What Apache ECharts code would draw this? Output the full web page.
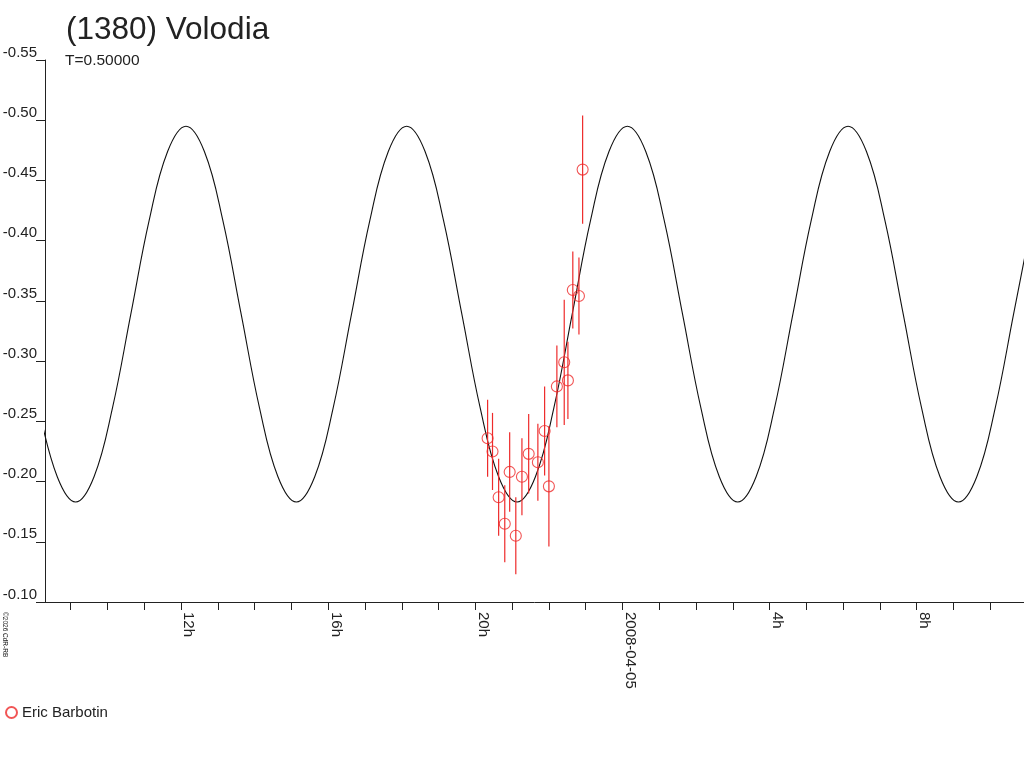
<!DOCTYPE html>
<html>
<head>
<meta charset="utf-8">
<script src="https://cdn.jsdelivr.net/npm/echarts@6/dist/echarts.min.js"></script>
<style>
  html, body { margin: 0; padding: 0; background: #fff; }
  #chart { width: 1024px; height: 768px; }
</style>
</head>
<body>
<div id="chart"></div>
<script>
// lightcurve data
const objectName = '(1380) Volodia'
const periodLabel = 'T=0.50000'
const observer = 'Eric Barbotin'

// observations: time, magnitude, error bar half-length
const obsTimes = [
  '2008-04-04 20:20', '2008-04-04 20:28', '2008-04-04 20:38', '2008-04-04 20:48',
  '2008-04-04 20:56', '2008-04-04 21:06', '2008-04-04 21:16', '2008-04-04 21:27',
  '2008-04-04 21:42', '2008-04-04 21:53', '2008-04-04 22:00', '2008-04-04 22:13',
  '2008-04-04 22:25', '2008-04-04 22:31', '2008-04-04 22:39', '2008-04-04 22:49',
  '2008-04-04 22:55'
]
const obsMags = [
  -0.236, -0.225, -0.187, -0.165, -0.208, -0.155, -0.204, -0.223,
  -0.216, -0.242, -0.196, -0.279, -0.299, -0.284, -0.359, -0.354,
  -0.459
]
const obsErrs = [
  0.032, 0.032, 0.032, 0.032, 0.033, 0.032, 0.032, 0.033,
  0.032, 0.037, 0.050, 0.034, 0.052, 0.032, 0.032, 0.032,
  0.045
]

// fitted curve, one reading every 30 min starting 2008-04-04 08:08
const curveStart = '2008-04-04 08:08'
const curveStepMin = 30
const curveMags = [
  -0.261, -0.204, -0.183, -0.204, -0.261, -0.339, -0.417, -0.474, -0.495, -0.474, -0.417, -0.339,
  -0.261, -0.204, -0.183, -0.204, -0.261, -0.339, -0.417, -0.474, -0.495, -0.474, -0.417, -0.339,
  -0.261, -0.204, -0.183, -0.204, -0.261, -0.339, -0.417, -0.474, -0.495, -0.474, -0.417, -0.339,
  -0.261, -0.204, -0.183, -0.204, -0.261, -0.339, -0.417, -0.474, -0.495, -0.474, -0.417, -0.339,
  -0.261, -0.204, -0.183, -0.204, -0.261, -0.339, -0.417
]

const xMin = '2008-04-04 08:18'
const xMax = '2008-04-05 10:55'
const yMin = -0.55
const yMax = -0.10
const yStep = 0.05

const red = '#ee2b2b'
const ink = '#222'
const font = 'Liberation Sans, Arial, sans-serif'

const t0 = echarts.time.parse(curveStart).getTime()
const curveData = curveMags.map((m, i) => [t0 + i * curveStepMin * 60000, m])
const obsData = obsTimes.map((t, i) => [t, obsMags[i]])
const errData = obsTimes.map((t, i) => [t, obsMags[i], obsErrs[i]])

const myChart = echarts.init(document.getElementById('chart'))
myChart.setOption({
  animation: false,
  backgroundColor: '#fff',
  textStyle: { fontFamily: font },
  title: [
    {
      text: objectName, left: 61, top: 9,
      textStyle: { fontSize: 31.5, fontWeight: 'normal', color: ink, fontFamily: font }
    },
    {
      text: periodLabel, left: 60, top: 48,
      textStyle: { fontSize: 15.5, fontWeight: 'normal', color: ink, fontFamily: font }
    }
  ],
  graphic: [
    {
      type: 'text', left: 1, top: 612,
      rotation: -Math.PI / 2,
      style: { text: '©2026 CdR-RB', fontSize: 6.5, fill: ink, fontFamily: font }
    }
  ],
  legend: {
    data: [observer],
    left: 5, top: 705,
    padding: 0,
    itemWidth: 11, itemHeight: 11,
    textStyle: { fontSize: 15, color: ink, fontFamily: font }
  },
  grid: { left: 45, right: 0, top: 60, bottom: 166, outerBoundsMode: 'none' },
  xAxis: {
    type: 'time',
    min: xMin,
    max: xMax,
    minInterval: 3600000,
    maxInterval: 3600000,
    splitNumber: 27,
    splitLine: { show: false },
    axisLine: { lineStyle: { color: ink, width: 1 } },
    axisTick: { length: 8, lineStyle: { color: ink } },
    axisLabel: {
      rotate: -90,
      margin: 10,
      fontSize: 15,
      color: ink,
      verticalAlign: 'bottom',
      showMinLabel: false,
      showMaxLabel: false,
      hideOverlap: false,
      formatter: function (value) {
        const d = new Date(value)
        if (d.getMinutes() !== 0) return ''
        const h = d.getHours()
        if (h === 0) return echarts.time.format(value, '{yyyy}-{MM}-{dd}', false)
        if (h % 4 === 0) return h + 'h'
        return ''
      }
    }
  },
  yAxis: {
    type: 'value',
    inverse: true,
    min: yMin,
    max: yMax,
    interval: yStep,
    splitLine: { show: false },
    axisLine: { show: true, lineStyle: { color: ink, width: 1 } },
    axisTick: { show: true, length: 9, lineStyle: { color: ink } },
    axisLabel: {
      margin: 8,
      fontSize: 15,
      color: ink,
      verticalAlign: 'bottom',
      formatter: v => v.toFixed(2)
    }
  },
  series: [
    {
      name: 'curve',
      type: 'line',
      data: curveData,
      smooth: 0.4,
      symbol: 'none',
      lineStyle: { color: '#111', width: 1.1 },
      z: 1
    },
    {
      name: 'errors',
      type: 'custom',
      data: errData,
      encode: { x: 0, y: 1 },
      renderItem: function (params, api) {
        const t = api.value(0)
        const m = api.value(1)
        const e = api.value(2)
        const a = api.coord([t, m - e])
        const b = api.coord([t, m + e])
        return {
          type: 'line',
          shape: { x1: a[0], y1: a[1], x2: b[0], y2: b[1] },
          style: { stroke: red, lineWidth: 1.2 }
        }
      },
      z: 2
    },
    {
      name: observer,
      type: 'scatter',
      data: obsData,
      symbol: 'circle',
      symbolSize: 11,
      itemStyle: { color: 'transparent', borderColor: red, borderWidth: 1.1 },
      z: 3
    }
  ]
})
</script>
</body>
</html>
